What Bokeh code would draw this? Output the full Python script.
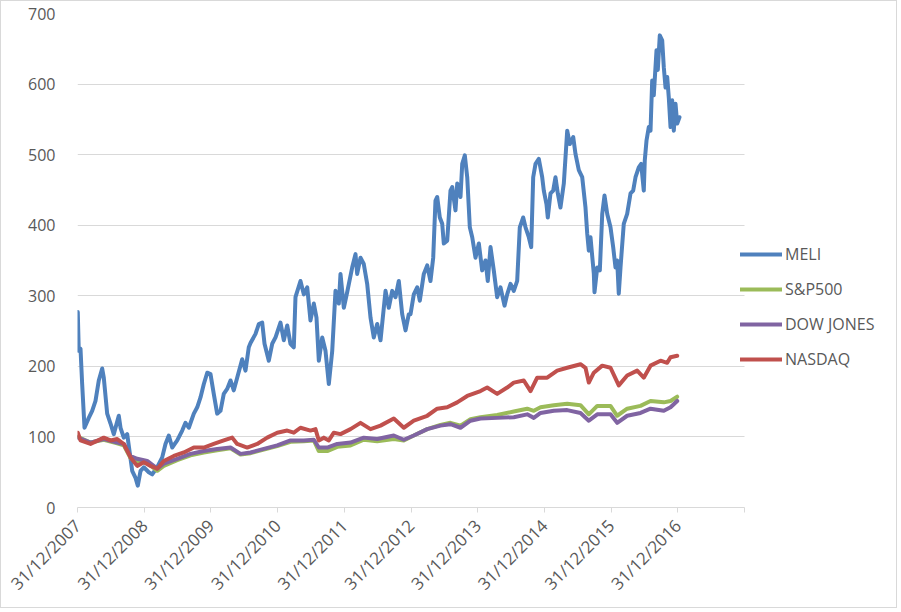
from bokeh.plotting import figure
from bokeh.models import Range1d, FixedTicker, Legend, LegendItem
from bokeh.embed import file_html
from bokeh.resources import INLINE

# x values are years elapsed since 31/12/2007
meli_x = [0.004, 0.019, 0.045, 0.070, 0.105, 0.169, 0.220, 0.270, 0.319, 0.370, 0.394, 0.445, 0.495,
          0.544, 0.619, 0.645, 0.694, 0.745, 0.820, 0.870, 0.904, 0.945, 0.994, 1.069, 1.120, 1.195,
          1.270, 1.319, 1.369, 1.420, 1.495, 1.570, 1.619, 1.669, 1.744, 1.795, 1.844, 1.894, 1.945,
          1.994, 2.043, 2.094, 2.144, 2.193, 2.244, 2.294, 2.343, 2.394, 2.469, 2.519, 2.568, 2.594,
          2.669, 2.718, 2.769, 2.804, 2.868, 2.919, 2.969, 3.043, 3.093, 3.144, 3.193, 3.243, 3.268,
          3.343, 3.393, 3.444, 3.493, 3.543, 3.583, 3.618, 3.669, 3.718, 3.768, 3.819, 3.868, 3.918,
          3.943, 3.993, 4.043, 4.118, 4.168, 4.193, 4.243, 4.292, 4.343, 4.393, 4.442, 4.493, 4.543,
          4.618, 4.667, 4.718, 4.768, 4.817, 4.868, 4.918, 4.967, 4.993, 5.042, 5.093, 5.132, 5.192,
          5.243, 5.292, 5.333, 5.367, 5.393, 5.432, 5.468, 5.492, 5.543, 5.592, 5.618, 5.667, 5.693,
          5.742, 5.768, 5.807, 5.843, 5.882, 5.918, 5.967, 6.017, 6.067, 6.117, 6.151, 6.192, 6.241,
          6.292, 6.342, 6.402, 6.442, 6.492, 6.541, 6.592, 6.631, 6.682, 6.717, 6.766, 6.802, 6.832,
          6.867, 6.916, 6.967, 6.991, 7.031, 7.051, 7.091, 7.132, 7.166, 7.201, 7.241, 7.291, 7.342,
          7.381, 7.432, 7.466, 7.516, 7.567, 7.616, 7.642, 7.666, 7.691, 7.741, 7.751, 7.792, 7.831,
          7.867, 7.901, 7.942, 7.991, 8.031, 8.066, 8.091, 8.115, 8.141, 8.190, 8.241, 8.291, 8.331,
          8.366, 8.415, 8.451, 8.490, 8.505, 8.531, 8.565, 8.591, 8.616, 8.640, 8.681, 8.700, 8.730,
          8.766, 8.790, 8.816, 8.841, 8.865, 8.891, 8.916, 8.940, 8.966, 8.991, 9.025]
meli_y = [277, 222, 225, 175, 113, 127, 137, 151, 180, 197, 184, 133, 119,
          104, 130, 113, 99, 104, 52, 42, 31, 52, 57, 50, 47, 57,
          71, 90, 102, 85, 95, 109, 120, 113, 133, 142, 156, 175, 191,
          189, 161, 133, 137, 161, 168, 180, 166, 184, 210, 194, 227, 233,
          246, 260, 262, 232, 208, 232, 241, 262, 237, 258, 232, 227, 298,
          321, 302, 312, 265, 289, 269, 208, 241, 222, 175, 222, 307, 289,
          331, 283, 305, 340, 359, 331, 354, 345, 317, 269, 241, 260, 237,
          307, 283, 307, 298, 321, 274, 251, 274, 274, 302, 312, 293, 331,
          343, 321, 354, 435, 440, 411, 402, 374, 378, 449, 454, 421, 459,
          440, 487, 499, 468, 397, 383, 354, 374, 336, 350, 321, 369, 336,
          298, 312, 286, 302, 317, 307, 321, 397, 411, 397, 383, 369, 468,
          487, 494, 468, 449, 430, 411, 445, 449, 468, 445, 425, 459, 534,
          515, 525, 501, 478, 468, 425, 388, 364, 383, 331, 305, 340, 336,
          416, 442, 416, 397, 369, 340, 350, 303, 340, 402, 416, 445, 449,
          468, 482, 487, 449, 492, 520, 539, 534, 605, 584, 648, 620, 669,
          662, 624, 595, 610, 581, 539, 577, 534, 572, 544, 553]

nasdaq_x = [0.004, 0.045, 0.195, 0.394, 0.495, 0.595, 0.694, 0.795, 0.895, 0.994, 1.094, 1.195,
            1.294, 1.444, 1.594, 1.744, 1.894, 2.043, 2.193, 2.319, 2.394, 2.544, 2.694, 2.844,
            2.994, 3.144, 3.243, 3.343, 3.493, 3.568, 3.618, 3.693, 3.768, 3.843, 3.943, 4.093,
            4.243, 4.393, 4.543, 4.742, 4.892, 5.042, 5.243, 5.393, 5.543, 5.693, 5.843, 6.042,
            6.142, 6.292, 6.442, 6.541, 6.691, 6.792, 6.892, 7.042, 7.192, 7.342, 7.541, 7.616,
            7.666, 7.741, 7.867, 7.991, 8.115, 8.241, 8.391, 8.490, 8.591, 8.741, 8.841, 8.891, 8.991]
nasdaq_y = [106, 95, 90, 99, 95, 97, 90, 71, 59, 64, 59, 55,
            66, 73, 78, 85, 85, 90, 95, 99, 90, 85, 90, 99,
            106, 109, 106, 113, 109, 111, 95, 99, 95, 106, 104, 111,
            120, 111, 116, 126, 113, 123, 130, 140, 142, 149, 158, 165,
            170, 161, 170, 177, 180, 165, 184, 184, 194, 198, 203, 198,
            177, 191, 201, 198, 173, 187, 194, 184, 201, 208, 205, 213, 215]

index_x = [0.004, 0.195, 0.394, 0.595, 0.694, 0.795, 0.895, 1.045, 1.195, 1.294, 1.495, 1.694,
           1.894, 2.094, 2.294, 2.444, 2.594, 2.793, 2.994, 3.193, 3.393, 3.543, 3.618, 3.744,
           3.894, 4.093, 4.292, 4.493, 4.742, 4.892, 5.042, 5.243, 5.442, 5.592, 5.742, 5.892,
           6.042, 6.292, 6.541, 6.742, 6.841, 6.942, 7.141, 7.342, 7.541, 7.666, 7.792, 7.991,
           8.091, 8.241, 8.441, 8.591, 8.790, 8.891, 8.991]
dow_y = [99, 92, 97, 92, 90, 73, 69, 66, 55, 62, 69, 76,
         80, 83, 85, 76, 78, 83, 88, 95, 95, 96, 85, 85,
         90, 92, 99, 97, 102, 96, 102, 111, 116, 118, 113, 123,
         126, 127, 128, 132, 127, 134, 137, 138, 134, 123, 132, 132,
         120, 130, 134, 140, 137, 142, 151]
sp500_y = [100, 92, 96, 91, 88, 70, 66, 63, 52, 59, 67, 74,
           78, 81, 84, 75, 77, 82, 87, 93, 94, 95, 80, 80,
           86, 88, 96, 94, 97, 95, 102, 111, 117, 120, 116, 125,
           128, 131, 136, 140, 137, 142, 145, 147, 145, 132, 144, 144,
           130, 140, 144, 151, 149, 151, 157]

series_names = ["MELI", "S&P500", "DOW JONES", "NASDAQ"]
series_colors = ["#4F81BD", "#9BBB59", "#8064A2", "#C0504D"]

x_ticks = list(range(0, 11))
x_tick_labels = ["31/12/2007", "31/12/2008", "31/12/2009", "31/12/2010", "31/12/2011",
                 "31/12/2012", "31/12/2013", "31/12/2014", "31/12/2015", "31/12/2016", ""]
y_ticks = [0, 100, 200, 300, 400, 500, 600, 700]
X_END = 10

FONT = "Open Sans"
TXT = "#595959"
GRID = "#D9D9D9"

W, H = 897, 608
BL, BR, BT, BB = 76, 4, 12, 102
frame_w = W - BL - BR
px_per_year = 667 / X_END
x_max = frame_w / px_per_year

p = figure(width=W, height=H, output_backend="svg", toolbar_location=None,
           x_range=Range1d(0, x_max), y_range=Range1d(0, 700),
           min_border_left=BL, min_border_right=BR, min_border_top=BT, min_border_bottom=BB)
p.outline_line_color = None
p.background_fill_color = "white"
p.border_fill_color = "white"
p.styles = {"border": "1px solid #D9D9D9"}

p.xgrid.grid_line_color = None
try:
    p.ygrid.cross_bounds = (0, X_END)
    p.ygrid.grid_line_color = GRID
    p.ygrid.grid_line_width = 1
except AttributeError:
    p.ygrid.grid_line_color = None
    p.segment(x0=[0] * len(y_ticks), y0=y_ticks, x1=[X_END] * len(y_ticks), y1=y_ticks,
              line_color=GRID, line_width=1)

xa = p.xaxis[0]
xa.bounds = (0, X_END)
xa.ticker = FixedTicker(ticks=x_ticks)
xa.major_label_overrides = {t: lab for t, lab in zip(x_ticks, x_tick_labels)}
xa.major_label_orientation = 0.785398
xa.axis_line_color = GRID
xa.major_tick_line_color = GRID
xa.major_tick_out = 5
xa.major_tick_in = 0
xa.minor_tick_line_color = None
xa.major_label_text_font = FONT
xa.major_label_text_font_size = "17px"
xa.major_label_text_color = TXT
xa.major_label_standoff = 10

ya = p.yaxis[0]
ya.ticker = FixedTicker(ticks=y_ticks)
ya.axis_line_color = None
ya.major_tick_line_color = None
ya.minor_tick_line_color = None
ya.major_label_text_font = FONT
ya.major_label_text_font_size = "16px"
ya.major_label_text_color = TXT
ya.major_label_standoff = 16

xs = [meli_x, index_x, index_x, nasdaq_x]
ys = [meli_y, sp500_y, dow_y, nasdaq_y]
renderers = []
for xx, yy, c in zip(xs, ys, series_colors):
    r = p.line(xx, yy, line_color=c, line_width=4, line_join="round", line_cap="round")
    renderers.append(r)

legend = Legend(items=[LegendItem(label=n, renderers=[r]) for n, r in zip(series_names, renderers)],
                location=(663, 137), orientation="vertical",
                glyph_width=42, glyph_height=20, label_height=20, spacing=13,
                padding=0, margin=0, label_standoff=3,
                label_text_font=FONT, label_text_font_size="16px", label_text_color=TXT,
                background_fill_alpha=0, border_line_alpha=0)
p.add_layout(legend, "center")

open("out.html", "w").write(file_html(p, INLINE))
